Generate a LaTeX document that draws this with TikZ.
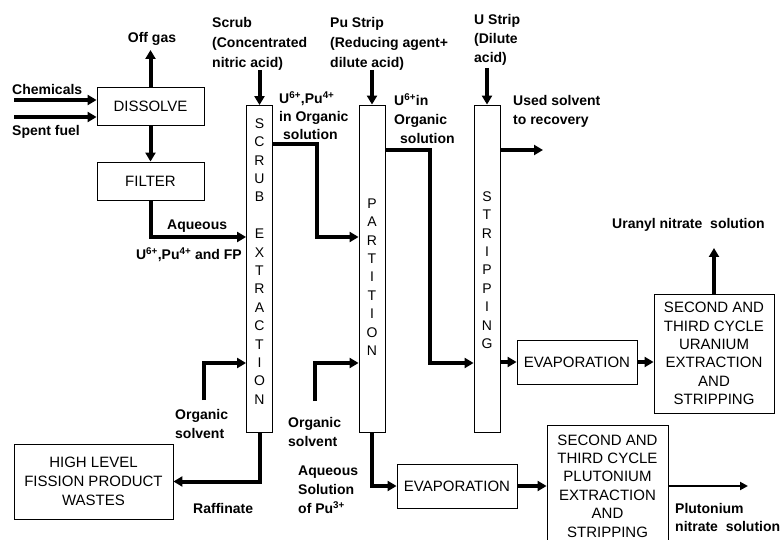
\documentclass[tikz,border=0pt]{standalone}
\usepackage{fontspec}
\setmainfont{Liberation Sans}
\usetikzlibrary{arrows.meta}
\begin{document}
\begin{tikzpicture}[x=1pt,y=-1pt,
  box/.style={draw, line width=0.9pt, font=\fontsize{15}{18.4}\selectfont, align=center, inner sep=0pt},
  col/.style={draw, line width=0.9pt, minimum width=26pt, minimum height=327pt, inner sep=0pt},
  colt/.style={font=\fontsize{14}{18.4}\selectfont, align=center, inner sep=0pt},
  lbl/.style={font=\fontsize{14}{19}\selectfont\bfseries, align=left, inner sep=0pt},
  flow/.style={line width=4pt, -{Triangle[length=9pt,width=10pt]}},
  thinflow/.style={line width=2.6pt, -{Triangle[length=8pt,width=8pt]}}]
\useasboundingbox (0,0) rectangle (780,540);
\clip (0,0) rectangle (780,540);
\fill[white] (0,0) rectangle (780,540);

% boxes
\node[box, minimum width=107pt, minimum height=38pt] (dissolve) at (150.5,106) {DISSOLVE};
\node[box, minimum width=107pt, minimum height=38pt] (filter) at (150.5,181) {FILTER};
\node[col] (scrub) at (259.5,269) {};
\node[col] (partition) at (372,268.5) {};
\node[col] (stripping) at (487,268.5) {};
\node[colt] (scrubt) at (259.5,261.5) {S\\C\\R\\U\\B\\[18.4pt]E\\X\\T\\R\\A\\C\\T\\I\\O\\N};
\node[colt] (partt) at (372,277) {P\\A\\R\\T\\I\\T\\I\\O\\N};
\node[colt] (stript) at (487,270) {S\\T\\R\\I\\P\\P\\I\\N\\G};
\node[box, minimum width=120pt, minimum height=44pt] (evapU) at (577,362) {EVAPORATION};
\node[box, minimum width=120pt, minimum height=119pt] (uran) at (714,353.5) {SECOND AND\\THIRD CYCLE\\URANIUM\\EXTRACTION\\AND\\STRIPPING};
\node[box, minimum width=120pt, minimum height=44pt] (evapP) at (457,486) {EVAPORATION};
\node[box, minimum width=121pt, minimum height=122pt] (plut) at (607.5,486) {SECOND AND\\THIRD CYCLE\\PLUTONIUM\\EXTRACTION\\AND\\STRIPPING};
\node[box, minimum width=159pt, minimum height=75pt, font=\fontsize{15}{19}\selectfont] (hlw) at (93.5,481.5) {HIGH LEVEL\\FISSION PRODUCT\\WASTES};

% labels
\node[lbl, anchor=base] (loff) at (152,43) {Off gas};
\node[lbl, anchor=base west] (lchem) at (12,95) {Chemicals};
\node[lbl, anchor=base west] (lspent) at (12,136) {Spent fuel};
\node[lbl, anchor=north west, font=\fontsize{14}{20}\selectfont\bfseries] (lscrub) at (212,17) {Scrub\\(Concentrated\\nitric acid)};
\node[lbl, anchor=north west, font=\fontsize{14}{20}\selectfont\bfseries] (lpu) at (330,17) {Pu Strip\\(Reducing agent+\\dilute acid)};
\node[lbl, anchor=north west, font=\fontsize{14}{19}\selectfont\bfseries] (lu) at (474,14) {U Strip\\(Dilute\\acid)};
\node[lbl, anchor=north west, font=\fontsize{14}{18}\selectfont\bfseries] (lorg1) at (279,91) {U\textsuperscript{6+},Pu\textsuperscript{4+}\\in Organic\\\hspace*{4pt}solution};
\node[lbl, anchor=north west] (lorg2) at (394,93) {U\textsuperscript{6+}in\\Organic\\\hspace*{6pt}solution};
\node[lbl, anchor=north west] (lused) at (513,95) {Used solvent\\to recovery};
\node[lbl, anchor=base west] (laq) at (167,230) {Aqueous};
\node[lbl, anchor=base east] (lfp) at (242,260) {U\textsuperscript{6+},Pu\textsuperscript{4+} and FP};
\node[lbl, anchor=base west] (luranyl) at (612,229) {Uranyl nitrate~~solution};
\node[lbl, anchor=north west] (lsolv1) at (175,409) {Organic\\solvent};
\node[lbl, anchor=north west] (lsolv2) at (288,417) {Organic\\solvent};
\node[lbl, anchor=north west] (laqpu) at (298,466) {Aqueous\\Solution\\of Pu\textsuperscript{3+}};
\node[lbl, anchor=base west] (lraff) at (193,513) {Raffinate};
\node[lbl, anchor=north west, font=\fontsize{14}{18}\selectfont\bfseries] (lplut) at (675,503) {Plutonium\\nitrate~~solution};

% coordinates
\coordinate (chemS) at (14,100);
\coordinate (spentS) at (14,117);
\coordinate (offT) at (150.5,50);
\coordinate (aqY) at (0,237);
\coordinate (scrubIn) at (259.5,70);
\coordinate (puIn) at (372,70);
\coordinate (uIn) at (487,68);
\coordinate (o1Y) at (0,144);
\coordinate (o1X) at (317,0);
\coordinate (o2Y) at (0,150);
\coordinate (o2X) at (430,0);
\coordinate (botY) at (0,363);
\coordinate (usedE) at (543,150);
\coordinate (uranT) at (714,248);
\coordinate (solv1S) at (204,400);
\coordinate (solv2S) at (315,401);
\coordinate (pluOut) at (748,486);

% connectors
\draw[flow] (chemS) -- (chemS -| dissolve.west);
\draw[flow] (spentS) -- (spentS -| dissolve.west);
\draw[flow] (dissolve.north) -- (offT);
\draw[flow] (dissolve.south) -- (filter.north);
\draw[flow] (filter.south) -- (filter.south |- aqY) -- (scrub.west |- aqY);
\draw[flow] (scrubIn) -- (scrub.north);
\draw[flow] (puIn) -- (partition.north);
\draw[flow] (uIn) -- (stripping.north);
\draw[flow] (scrub.east |- o1Y) -- (o1X |- o1Y) -- (o1X |- aqY) -- (partition.west |- aqY);
\draw[flow] (partition.east |- o2Y) -- (o2X |- o2Y) -- (o2X |- botY) -- (stripping.west |- botY);
\draw[flow] (stripping.east |- usedE) -- (usedE);
\draw[flow] (stripping.east |- evapU.west) -- (evapU.west);
\draw[flow] (evapU.east) -- (uran.west |- evapU.east);
\draw[flow] (uran.north) -- (uranT);
\draw[flow] (solv1S) -- (solv1S |- botY) -- (scrub.west |- botY);
\draw[flow] (solv2S) -- (solv2S |- botY) -- (partition.west |- botY);
\draw[flow] (scrub.south) |- (hlw.east);
\draw[flow] (partition.south) |- (evapP.west);
\draw[flow] (evapP.east) -- (plut.west);
\draw[thinflow] (plut.east) -- (pluOut);
\end{tikzpicture}
\end{document}
